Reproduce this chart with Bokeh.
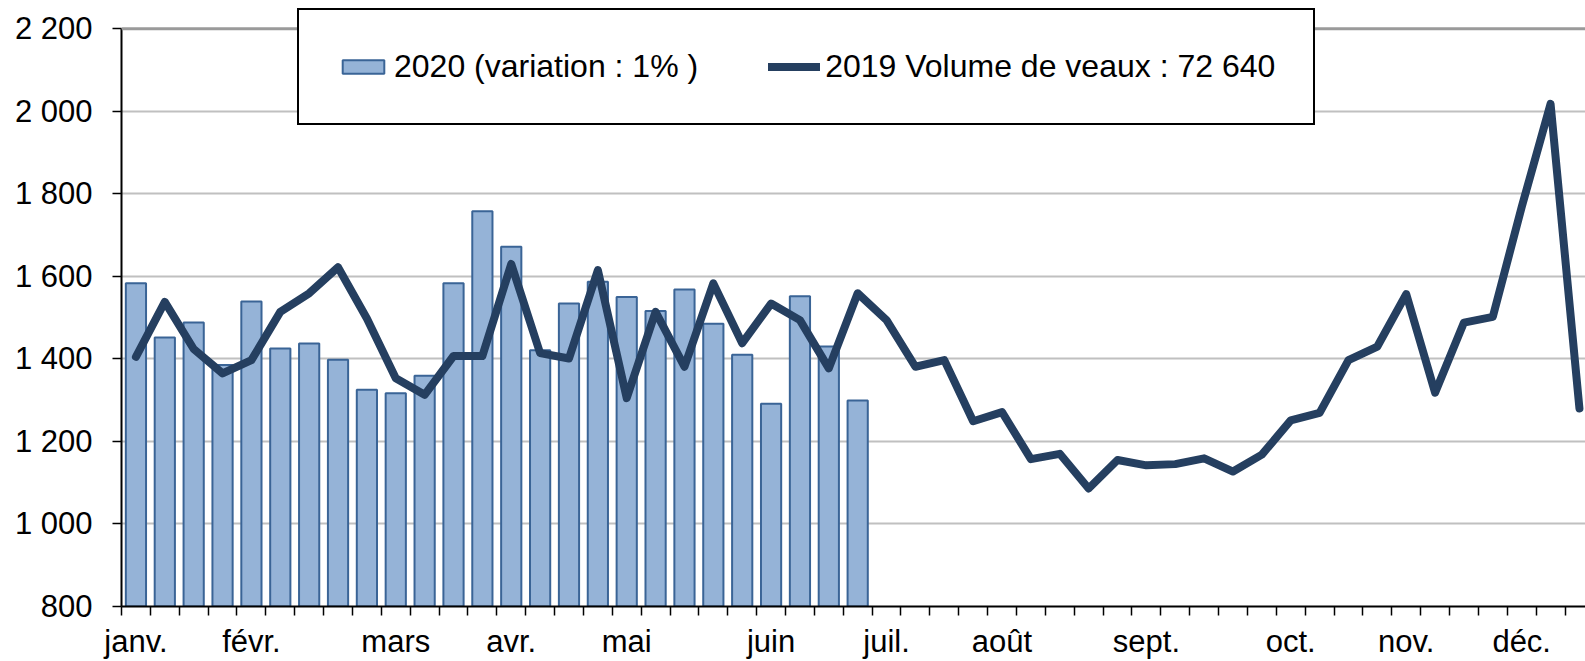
from bokeh.plotting import figure
from bokeh.models import (Range1d, FixedTicker, Legend, LegendItem, Span)
from bokeh.embed import file_html
from bokeh.resources import INLINE

# ---- data -------------------------------------------------------------
weeks_2020 = list(range(1, 27))
vol_2020 = [1583, 1452, 1488, 1385, 1539, 1425, 1437, 1398, 1325, 1317,
            1359, 1583, 1758, 1672, 1421, 1534, 1587, 1550, 1516, 1568,
            1485, 1410, 1291, 1552, 1430, 1299]

weeks_2019 = list(range(1, 52))
vol_2019 = [1405, 1538, 1424, 1365, 1397, 1514, 1559, 1622, 1498, 1353,
            1313, 1407, 1407, 1630, 1414, 1401, 1615, 1305, 1514, 1381,
            1583, 1438, 1534, 1494, 1377, 1559, 1494, 1381, 1397, 1249,
            1271, 1157, 1170, 1086, 1155, 1142, 1145, 1159, 1127, 1168,
            1251, 1269, 1397, 1430, 1557, 1318, 1488, 1502, 1768, 2018,
            1280]

months = ["janv.", "févr.", "mars", "avr.", "mai", "juin",
          "juil.", "août", "sept.", "oct.", "nov.", "déc."]
month_first_week = [1, 5, 10, 14, 18, 23, 27, 31, 36, 41, 45, 49]

y_ticks = [800, 1000, 1200, 1400, 1600, 1800, 2000, 2200]

label_2020 = "2020 (variation : 1% )"
label_2019 = "2019 Volume de veaux : 72 640"

# ---- figure -----------------------------------------------------------
FONT = "Liberation Sans"
n_visible = 1464 / 28.87      # categories visible in the frame
y_top = 800 + 607 / 0.41336   # frame reaches the top of the page

p = figure(width=1585, height=661, output_backend="svg", toolbar_location=None,
           x_range=Range1d(0, n_visible), y_range=Range1d(800, y_top),
           min_border_left=121, min_border_right=0, min_border_top=0,
           min_border_bottom=54)
p.background_fill_color = "white"
p.border_fill_color = "white"
p.outline_line_color = None

xc_2020 = [w - 0.5 for w in weeks_2020]
xc_2019 = [w - 0.5 for w in weeks_2019]

bars = p.vbar(x=xc_2020, top=vol_2020, bottom=800, width=0.7,
              fill_color="#95B3D7", line_color="#3A6496", line_width=2)
line = p.line(x=xc_2019, y=vol_2019, line_color="#253F60", line_width=8,
              line_join="round", line_cap="round")

# grid
p.xgrid.visible = False
p.ygrid.ticker = FixedTicker(ticks=y_ticks[:-1])
p.ygrid.grid_line_color = "#C0C0C0"
p.ygrid.grid_line_width = 2
p.add_layout(Span(location=y_ticks[-1], dimension="width",
                  line_color="#9A9A9A", line_width=3))

# y axis
ya = p.yaxis[0]
ya.bounds = (y_ticks[0], y_ticks[-1])
ya.ticker = FixedTicker(ticks=y_ticks)
ya.major_label_overrides = {v: f"{v:,}".replace(",", " ") for v in y_ticks}
ya.major_label_text_font = FONT
ya.major_label_text_font_size = "31px"
ya.major_label_text_color = "black"
ya.major_label_standoff = 20
ya.major_tick_in = 0
ya.major_tick_out = 9
ya.major_tick_line_color = "black"
ya.major_tick_line_width = 1.5
ya.minor_tick_line_color = None
ya.axis_line_color = "black"
ya.axis_line_width = 2

# x axis
label_pos = [w - 0.5 for w in month_first_week]
xa = p.xaxis[0]
xa.ticker = FixedTicker(ticks=label_pos, minor_ticks=list(range(0, 53)))
xa.major_label_overrides = {pos: m for pos, m in zip(label_pos, months)}
xa.major_label_text_font = FONT
xa.major_label_text_font_size = "31px"
xa.major_label_text_color = "black"
xa.major_label_standoff = 8
xa.major_tick_line_color = None
xa.major_tick_in = 0
xa.major_tick_out = 9
xa.minor_tick_in = 0
xa.minor_tick_out = 9
xa.minor_tick_line_color = "black"
xa.minor_tick_line_width = 1.5
xa.axis_line_color = "black"
xa.axis_line_width = 2

# legend
legend = Legend(items=[LegendItem(label=label_2020, renderers=[bars]),
                       LegendItem(label=label_2019, renderers=[line])],
                orientation="horizontal", location=(176, 481), margin=0,
                padding=38, spacing=70, label_standoff=5,
                glyph_width=52, glyph_height=17,
                label_text_font=FONT, label_text_font_size="32px",
                label_text_color="black",
                border_line_color="black", border_line_width=2.5,
                border_line_alpha=1.0,
                background_fill_color="white", background_fill_alpha=1)
p.add_layout(legend, "center")

open("out.html", "w").write(file_html(p, INLINE))
